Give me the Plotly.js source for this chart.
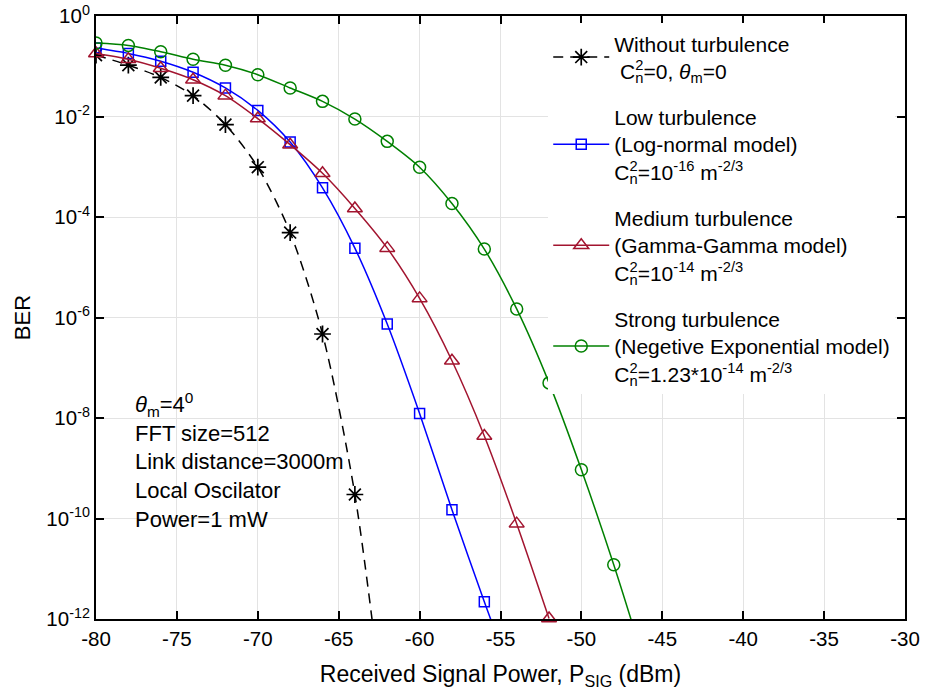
<!DOCTYPE html>
<html>
<head>
<meta charset="utf-8">
<script src="https://cdn.plot.ly/plotly-3.0.1.min.js"></script>
<style>html,body{margin:0;padding:0;background:#fff;}#chart{width:925px;height:696px;}</style>
</head>
<body>
<div id="chart"></div>
<script>
// Received signal power (dBm)
const powerBlack = [-80, -78, -76, -74, -72, -70, -68, -66, -64, -62];
const berBlack   = [1.66e-1, 1.05e-1, 6.0e-2, 2.6e-2, 6.9e-3, 9.8e-4, 4.9e-5, 4.7e-7, 3.0e-10, 3.2e-15];

const powerBlue = [-80, -78, -76, -74, -72, -70, -68, -66, -64, -62, -60, -58, -56, -54];
const berBlue   = [2.3e-1, 1.8e-1, 1.26e-1, 7.6e-2, 3.7e-2, 1.32e-2, 3.1e-3, 3.8e-4, 2.4e-5, 7.4e-7, 1.23e-8, 1.5e-10, 2.2e-12, 4.0e-14];

const powerRed = [-80, -78, -76, -74, -72, -70, -68, -66, -64, -62, -60, -58, -56, -54, -52];
const berRed   = [1.8e-1, 1.38e-1, 9.1e-2, 5.4e-2, 2.6e-2, 9.1e-3, 2.75e-3, 7.4e-4, 1.48e-4, 2.4e-5, 2.4e-6, 1.38e-7, 4.4e-9, 7.9e-11, 1.02e-12];

const powerGreen = [-80, -78, -76, -74, -72, -70, -68, -66, -64, -62, -60, -58, -56, -54, -52, -50, -48, -46];
const berGreen   = [2.9e-1, 2.6e-1, 1.95e-1, 1.38e-1, 1.05e-1, 6.8e-2, 3.7e-2, 2.0e-2, 8.9e-3, 3.2e-3, 9.8e-4, 1.86e-4, 2.3e-5, 1.48e-6, 5.0e-8, 9.3e-10, 1.2e-11, 1.05e-13];

const seriesNames = [
  "Without turbulence<br> C<sup><span style=\"letter-spacing:-0.55em\">2</span></sup><sub>n</sub>=0, <i>θ</i><sub>m</sub>=0",
  "Low turbulence<br>(Log-normal model)<br>C<sup><span style=\"letter-spacing:-0.55em\">2</span></sup><sub>n</sub>=10<sup>-16</sup> m<sup>-2/3</sup>",
  "Medium turbulence<br>(Gamma-Gamma model)<br>C<sup><span style=\"letter-spacing:-0.55em\">2</span></sup><sub>n</sub>=10<sup>-14</sup> m<sup>-2/3</sup>",
  "Strong turbulence<br>(Negetive Exponential model)<br>C<sup><span style=\"letter-spacing:-0.55em\">2</span></sup><sub>n</sub>=1.23*10<sup>-14</sup> m<sup>-2/3</sup>"
];

const xTickVals = [-80, -75, -70, -65, -60, -55, -50, -45, -40, -35, -30];
const xTickText = ["-80", "-75", "-70", "-65", "-60", "-55", "-50", "-45", "-40", "-35", "-30"];
const yTickVals = [1, 1e-2, 1e-4, 1e-6, 1e-8, 1e-10, 1e-12];
const yTickText = ["10<sup>0</sup>", "10<sup>-2</sup>", "10<sup>-4</sup>", "10<sup>-6</sup>", "10<sup>-8</sup>", "10<sup>-10</sup>", "10<sup>-12</sup>"];

const noteText = "<i>θ</i><sub>m</sub>=4<sup>0</sup><br>FFT size=512<br>Link distance=3000m<br>Local Oscilator<br>Power=1 mW";

const FONT = "Liberation Sans, Arial, Helvetica, sans-serif";

const traces = [
  {x: powerBlack, y: berBlack, name: seriesNames[0], mode: "lines+markers", legendgroup: "a",
   line: {color: "#000000", width: 1.5, dash: "10px,7px", shape: "spline", smoothing: 0.8},
   marker: {symbol: "asterisk-open", size: 14, color: "#000000", line: {color: "#000000", width: 1.7}}},
  {x: powerBlue, y: berBlue, name: seriesNames[1], mode: "lines+markers", legendgroup: "b",
   line: {color: "#0000ff", width: 1.5, shape: "spline", smoothing: 0.8},
   marker: {symbol: "square-open", size: 10, color: "#0000ff", line: {color: "#0000ff", width: 1.5}}},
  {x: powerRed, y: berRed, name: seriesNames[2], mode: "lines+markers", legendgroup: "c", cliponaxis: false,
   line: {color: "#a2142f", width: 1.5, shape: "spline", smoothing: 0.8},
   marker: {symbol: "triangle-up-open", size: 13, color: "#a2142f", line: {color: "#a2142f", width: 1.5}}},
  {x: powerGreen, y: berGreen, name: seriesNames[3], mode: "lines+markers", legendgroup: "d",
   line: {color: "#008000", width: 1.5, shape: "spline", smoothing: 0.8},
   marker: {symbol: "circle-open", size: 12, color: "#008000", line: {color: "#008000", width: 1.5}}}
];

const axisCommon = {
  showline: true, linecolor: "#000000", linewidth: 2, mirror: "ticks",
  ticks: "inside", ticklen: 8, tickwidth: 2, tickcolor: "#000000",
  showgrid: true, gridcolor: "#e3e3e3", gridwidth: 1, zeroline: false,
  tickfont: {family: FONT, size: 20.5, color: "#000000"}
};

const layout = {
  width: 925, height: 696,
  margin: {l: 96, r: 20, t: 16, b: 77},
  paper_bgcolor: "#ffffff", plot_bgcolor: "#ffffff",
  font: {family: FONT, size: 20, color: "#000000"},
  showlegend: true,
  legend: {
    x: 0.559, y: 0.988, xanchor: "left", yanchor: "top",
    bgcolor: "#ffffff", borderwidth: 0,
    font: {family: FONT, size: 21, color: "#000000"},
    tracegroupgap: 16, itemwidth: 56, valign: "middle"
  },
  xaxis: Object.assign({}, axisCommon, {
    range: [-80, -30], tickvals: xTickVals, ticktext: xTickText,
    title: {text: "Received Signal Power, P<sub>SIG</sub> (dBm)", font: {family: FONT, size: 23}, standoff: 17}
  }),
  yaxis: Object.assign({}, axisCommon, {
    type: "log", range: [-12, 0], tickvals: yTickVals, ticktext: yTickText,
    title: {text: "BER", font: {family: FONT, size: 22}, standoff: 10}
  }),
  annotations: [{
    text: noteText, xref: "paper", yref: "paper", x: 0.046, y: 0.385,
    xanchor: "left", yanchor: "top", align: "left", showarrow: false,
    font: {family: FONT, size: 22, color: "#000000"}
  }]
};

Plotly.newPlot("chart", traces, layout, {displayModeBar: false, staticPlot: true});
</script>
</body>
</html>
